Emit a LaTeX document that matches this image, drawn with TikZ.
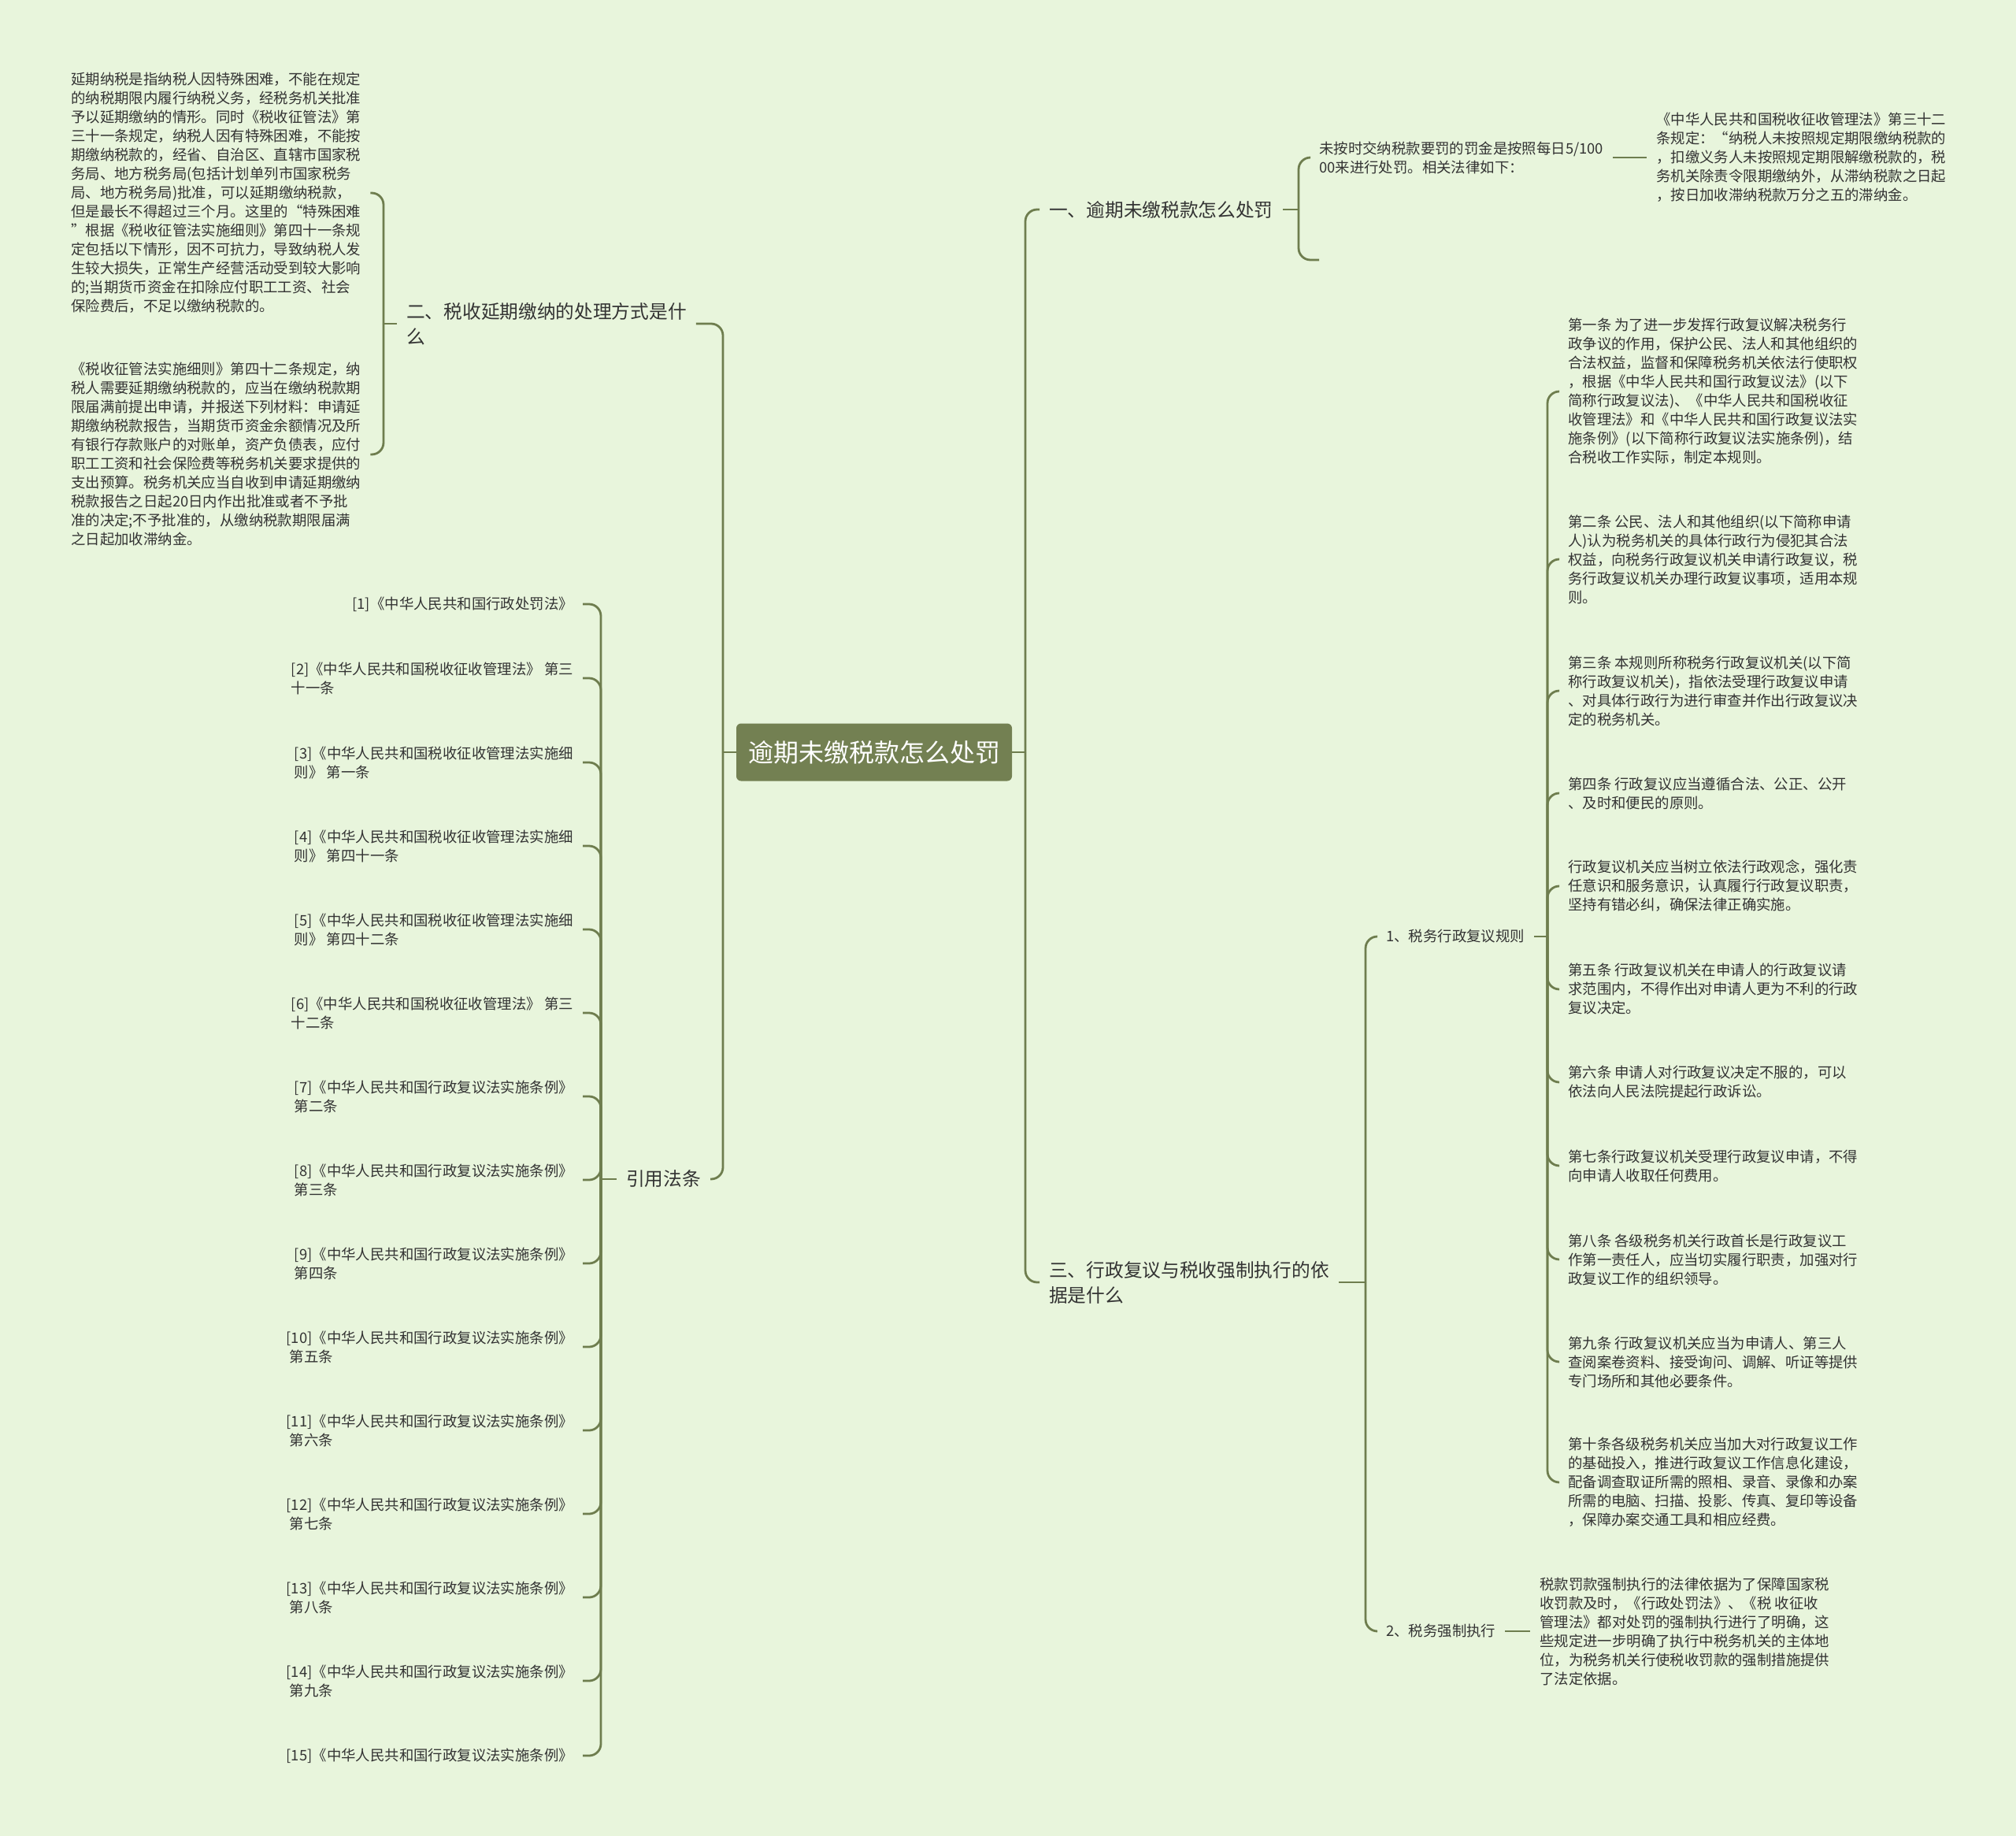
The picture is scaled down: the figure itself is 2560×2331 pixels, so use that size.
\documentclass[tikz,border=0pt]{standalone}
\usepackage{fontspec}
\setmainfont{Noto Sans CJK SC}
\definecolor{bgcol}{HTML}{E8F5DC}
\definecolor{linecol}{HTML}{6E7D4E}
\definecolor{rootcol}{HTML}{738052}
\definecolor{txtcol}{HTML}{333333}

\begin{document}
\begin{tikzpicture}[x=1pt,y=-1pt,
  every node/.style={text=txtcol, inner xsep=12pt, inner ysep=4pt},
  topic/.style={font=\fontsize{23.7}{32}\selectfont, align=left},
  txt/.style={font=\fontsize{18.4}{24}\selectfont, align=left},
  link/.style={draw=linecol, line width=2.8pt, rounded corners=15pt}]
\fill[bgcol] (0,0) rectangle (2560,2331);
\useasboundingbox (0,0) rectangle (2560,2331);

\node[fill=rootcol, rounded corners=6pt, text=white, inner xsep=4pt, minimum width=350pt, minimum height=73pt, font=\fontsize{32}{38}\selectfont] (R) at (1110,955) {逾期未缴税款怎么处罚};

\node[topic, anchor=west] (T1) at (1320,266) {一、逾期未缴税款怎么处罚};
\node[topic, anchor=west] (T3) at (1320,1628) {三、行政复议与税收强制执行的依\\据是什么};
\node[topic, anchor=west] (L2) at (504,411) {二、税收延期缴纳的处理方式是什\\么};
\node[topic, anchor=west] (LR) at (783,1497) {引用法条};

\coordinate (RR) at (1302,955);
\coordinate (RL) at (918,955);
\coordinate (C1) at (1649,266);
\coordinate (C2) at (487,411);
\coordinate (C3) at (1734,1628);
\coordinate (C4) at (1965,1189);
\coordinate (C5) at (763,1497);
\coordinate (A0) at (1675,330);

% branch one
\node[txt, anchor=west] (A) at (1663,200) {未按时交纳税款要罚的罚金是按照每日5/100\\00来进行处罚。相关法律如下：};
\node[txt, anchor=west] (B) at (2091,200) {《中华人民共和国税收征收管理法》第三十二\\条规定：“纳税人未按照规定期限缴纳税款的\\，扣缴义务人未按照规定期限解缴税款的，税\\务机关除责令限期缴纳外，从滞纳税款之日起\\，按日加收滞纳税款万分之五的滞纳金。};

% branch three
\node[txt, anchor=west] (R1) at (1748,1189) {1、税务行政复议规则};
\node[txt, anchor=west] (R2) at (1748,2071) {2、税务强制执行};
\node[txt, anchor=west] (S) at (1943,2071) {税款罚款强制执行的法律依据为了保障国家税\\收罚款及时，《行政处罚法》、《税 收征收\\管理法》都对处罚的强制执行进行了明确，这\\些规定进一步明确了执行中税务机关的主体地\\位，为税务机关行使税收罚款的强制措施提供\\了法定依据。};

\node[txt, anchor=west] (Q1) at (1979,497) {第一条 为了进一步发挥行政复议解决税务行\\政争议的作用，保护公民、法人和其他组织的\\合法权益，监督和保障税务机关依法行使职权\\，根据《中华人民共和国行政复议法》(以下\\简称行政复议法)、《中华人民共和国税收征\\收管理法》和《中华人民共和国行政复议法实\\施条例》(以下简称行政复议法实施条例)，结\\合税收工作实际，制定本规则。};
\node[txt, anchor=west] (Q2) at (1979,710) {第二条 公民、法人和其他组织(以下简称申请\\人)认为税务机关的具体行政行为侵犯其合法\\权益，向税务行政复议机关申请行政复议，税\\务行政复议机关办理行政复议事项，适用本规\\则。};
\node[txt, anchor=west] (Q3) at (1979,877) {第三条 本规则所称税务行政复议机关(以下简\\称行政复议机关)，指依法受理行政复议申请\\、对具体行政行为进行审查并作出行政复议决\\定的税务机关。};
\node[txt, anchor=west] (Q4) at (1979,1007) {第四条 行政复议应当遵循合法、公正、公开\\、及时和便民的原则。};
\node[txt, anchor=west] (Q5) at (1979,1125) {行政复议机关应当树立依法行政观念，强化责\\任意识和服务意识，认真履行行政复议职责，\\坚持有错必纠，确保法律正确实施。};
\node[txt, anchor=west] (Q6) at (1979,1256) {第五条 行政复议机关在申请人的行政复议请\\求范围内，不得作出对申请人更为不利的行政\\复议决定。};
\node[txt, anchor=west] (Q7) at (1979,1374) {第六条 申请人对行政复议决定不服的，可以\\依法向人民法院提起行政诉讼。};
\node[txt, anchor=west] (Q8) at (1979,1480) {第七条行政复议机关受理行政复议申请，不得\\向申请人收取任何费用。};
\node[txt, anchor=west] (Q9) at (1979,1599) {第八条 各级税务机关行政首长是行政复议工\\作第一责任人，应当切实履行职责，加强对行\\政复议工作的组织领导。};
\node[txt, anchor=west] (Q10) at (1979,1729) {第九条 行政复议机关应当为申请人、第三人\\查阅案卷资料、接受询问、调解、听证等提供\\专门场所和其他必要条件。};
\node[txt, anchor=west] (Q11) at (1979,1882) {第十条各级税务机关应当加大对行政复议工作\\的基础投入，推进行政复议工作信息化建设，\\配备调查取证所需的照相、录音、录像和办案\\所需的电脑、扫描、投影、传真、复印等设备\\，保障办案交通工具和相应经费。};

% branch two
\node[txt, anchor=west] (P1) at (78,245) {延期纳税是指纳税人因特殊困难，不能在规定\\的纳税期限内履行纳税义务，经税务机关批准\\予以延期缴纳的情形。同时《税收征管法》第\\三十一条规定，纳税人因有特殊困难，不能按\\期缴纳税款的，经省、自治区、直辖市国家税\\务局、地方税务局(包括计划单列市国家税务\\局、地方税务局)批准，可以延期缴纳税款，\\但是最长不得超过三个月。这里的“特殊困难\\”根据《税收征管法实施细则》第四十一条规\\定包括以下情形，因不可抗力，导致纳税人发\\生较大损失，正常生产经营活动受到较大影响\\的;当期货币资金在扣除应付职工工资、社会\\保险费后，不足以缴纳税款的。};
\node[txt, anchor=west] (P2) at (78,577) {《税收征管法实施细则》第四十二条规定，纳\\税人需要延期缴纳税款的，应当在缴纳税款期\\限届满前提出申请，并报送下列材料：申请延\\期缴纳税款报告，当期货币资金余额情况及所\\有银行存款账户的对账单，资产负债表，应付\\职工工资和社会保险费等税务机关要求提供的\\支出预算。税务机关应当自收到申请延期缴纳\\税款报告之日起20日内作出批准或者不予批\\准的决定;不予批准的，从缴纳税款期限届满\\之日起加收滞纳金。};

% cited laws
\node[txt, anchor=east] (F1) at (740,767) {[1]《中华人民共和国行政处罚法》};
\node[txt, anchor=east] (F2) at (740,861) {[2]《中华人民共和国税收征收管理法》 第三\\十一条};
\node[txt, anchor=east] (F3) at (740,968) {[3]《中华人民共和国税收征收管理法实施细\\则》 第一条};
\node[txt, anchor=east] (F4) at (740,1074) {[4]《中华人民共和国税收征收管理法实施细\\则》 第四十一条};
\node[txt, anchor=east] (F5) at (740,1180) {[5]《中华人民共和国税收征收管理法实施细\\则》 第四十二条};
\node[txt, anchor=east] (F6) at (740,1286) {[6]《中华人民共和国税收征收管理法》 第三\\十二条};
\node[txt, anchor=east] (F7) at (740,1392) {[7]《中华人民共和国行政复议法实施条例》\\第二条};
\node[txt, anchor=east] (F8) at (740,1498) {[8]《中华人民共和国行政复议法实施条例》\\第三条};
\node[txt, anchor=east] (F9) at (740,1604) {[9]《中华人民共和国行政复议法实施条例》\\第四条};
\node[txt, anchor=east] (F10) at (740,1710) {[10]《中华人民共和国行政复议法实施条例》\\{}\ 第五条};
\node[txt, anchor=east] (F11) at (740,1816) {[11]《中华人民共和国行政复议法实施条例》\\{}\ 第六条};
\node[txt, anchor=east] (F12) at (740,1922) {[12]《中华人民共和国行政复议法实施条例》\\{}\ 第七条};
\node[txt, anchor=east] (F13) at (740,2028) {[13]《中华人民共和国行政复议法实施条例》\\{}\ 第八条};
\node[txt, anchor=east] (F14) at (740,2134) {[14]《中华人民共和国行政复议法实施条例》\\{}\ 第九条};
\node[txt, anchor=east] (F15) at (740,2229) {[15]《中华人民共和国行政复议法实施条例》};

% root links
\draw[link] (R.east) -- (RR);
\draw[link] (R.west) -- (RL);
\draw[link] (RR) |- (T1.west);
\draw[link] (RR) |- (T3.west);
\draw[link] (RL) |- (L2.east);
\draw[link] (RL) |- (LR.east);

\draw[link] (T1.east) -- (C1);
\draw[link] (C1) |- (A.west);
\draw[link] (C1) |- (A0);
\draw[link] (A.east) -- (B.west);

\draw[link] (T3.east) -- (C3);
\draw[link] (C3) |- (R1.west);
\draw[link] (C3) |- (R2.west);
\draw[link] (R2.east) -- (S.west);
\draw[link] (R1.east) -- (C4);
\draw[link] (C4) |- (Q1.west);
\draw[link] (C4) |- (Q2.west);
\draw[link] (C4) |- (Q3.west);
\draw[link] (C4) |- (Q4.west);
\draw[link] (C4) |- (Q5.west);
\draw[link] (C4) |- (Q6.west);
\draw[link] (C4) |- (Q7.west);
\draw[link] (C4) |- (Q8.west);
\draw[link] (C4) |- (Q9.west);
\draw[link] (C4) |- (Q10.west);
\draw[link] (C4) |- (Q11.west);

\draw[link] (L2.west) -- (C2);
\draw[link] (C2) |- (P1.east);
\draw[link] (C2) |- (P2.east);

\draw[link] (LR.west) -- (C5);
\draw[link] (C5) |- (F1.east);
\draw[link] (C5) |- (F2.east);
\draw[link] (C5) |- (F3.east);
\draw[link] (C5) |- (F4.east);
\draw[link] (C5) |- (F5.east);
\draw[link] (C5) |- (F6.east);
\draw[link] (C5) |- (F7.east);
\draw[link] (C5) |- (F8.east);
\draw[link] (C5) |- (F9.east);
\draw[link] (C5) |- (F10.east);
\draw[link] (C5) |- (F11.east);
\draw[link] (C5) |- (F12.east);
\draw[link] (C5) |- (F13.east);
\draw[link] (C5) |- (F14.east);
\draw[link] (C5) |- (F15.east);
\end{tikzpicture}
\end{document}
